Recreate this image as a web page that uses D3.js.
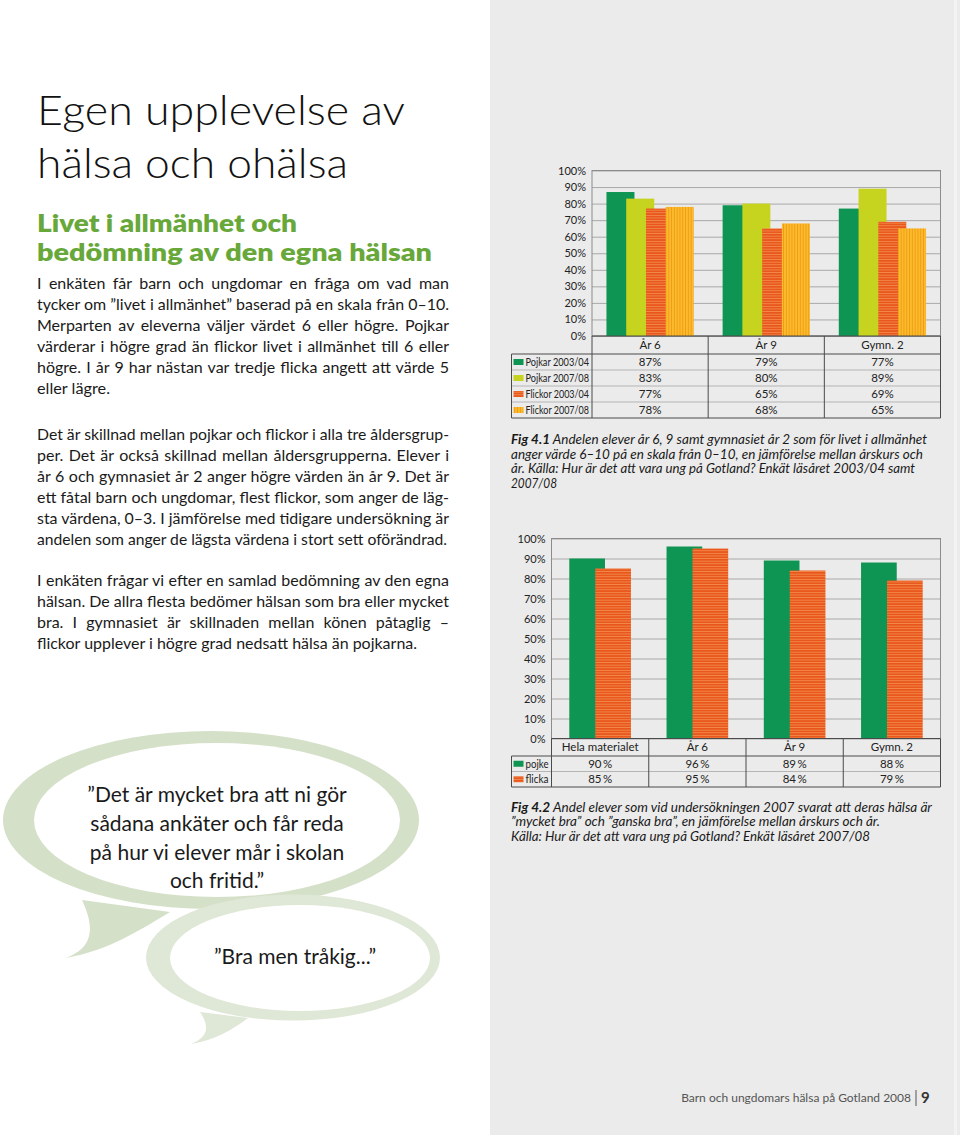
<!DOCTYPE html>
<html><head><meta charset="utf-8">
<script src="https://cdn.jsdelivr.net/npm/d3@7"></script>
<style>html,body{margin:0;padding:0;background:#fff}svg{display:block}</style>
</head><body><svg id="c" width="960" height="1135"></svg>
<script>
// ---------- DATA ----------
// Fig 4.1
const fig1Categories = ["År 6", "År 9", "Gymn. 2"];
const fig1SeriesNames = ["Pojkar 2003/04", "Pojkar 2007/08", "Flickor 2003/04", "Flickor 2007/08"];
const pojkar2003 = [87, 79, 77];
const pojkar2007 = [83, 80, 89];
const flickor2003 = [77, 65, 69];
const flickor2007 = [78, 68, 65];
// Fig 4.2
const fig2Categories = ["Hela materialet", "År 6", "År 9", "Gymn. 2"];
const fig2SeriesNames = ["pojke", "flicka"];
const pojke = [90, 96, 89, 88];
const flicka = [85, 95, 84, 79];
// ticks
const yTicks = [0, 10, 20, 30, 40, 50, 60, 70, 80, 90, 100];

// ---------- TEXT ----------
const titleLines = ["Egen upplevelse av", "hälsa och ohälsa"];
const headingLines = ["Livet i allmänhet och", "bedömning av den egna hälsan"];
const para1 = ["I enkäten får barn och ungdomar en fråga om vad man",
  "tycker om ”livet i allmänhet” baserad på en skala från 0–10.",
  "Merparten av eleverna väljer värdet 6 eller högre. Pojkar",
  "värderar i högre grad än flickor livet i allmänhet till 6 eller",
  "högre. I år 9 har nästan var tredje flicka angett att värde 5",
  "eller lägre."];
const para2 = ["Det är skillnad mellan pojkar och flickor i alla tre åldersgrup-",
  "per. Det är också skillnad mellan åldersgrupperna. Elever i",
  "år 6 och gymnasiet år 2 anger högre värden än år 9. Det är",
  "ett fåtal barn och ungdomar, flest flickor, som anger de läg-",
  "sta värdena, 0–3. I jämförelse med tidigare undersökning är",
  "andelen som anger de lägsta värdena i stort sett oförändrad."];
const para3 = ["I enkäten frågar vi efter en samlad bedömning av den egna",
  "hälsan. De allra flesta bedömer hälsan som bra eller mycket",
  "bra. I gymnasiet är skillnaden mellan könen påtaglig –",
  "flickor upplever i högre grad nedsatt hälsa än pojkarna."];
const quote1 = ["”Det är mycket bra att ni gör", "sådana ankäter och får reda", "på hur vi elever mår i skolan", "och fritid.”"];
const quote2 = "”Bra men tråkig...”";
const cap1 = [["Fig 4.1", " Andelen elever år 6, 9 samt gymnasiet år 2 som för livet i allmänhet"],
  ["", "anger värde 6–10 på en skala från 0–10, en jämförelse mellan årskurs och"],
  ["", "år. Källa: Hur är det att vara ung på Gotland? Enkät läsåret 2003/04 samt"],
  ["", "2007/08"]];
const cap2 = [["Fig 4.2", " Andel elever som vid undersökningen 2007 svarat att deras hälsa är"],
  ["", "”mycket bra” och ”ganska bra”, en jämförelse mellan årskurs och år."],
  ["", "Källa: Hur är det att vara ung på Gotland? Enkät läsåret 2007/08"]];
const footerText = "Barn och ungdomars hälsa på Gotland 2008";
const pageNo = "9";

// ---------- SETUP ----------
const svg = d3.select("#c");
const defs = svg.append("defs");
const pH = defs.append("pattern").attr("id", "hstripe").attr("patternUnits", "userSpaceOnUse")
  .attr("width", 6).attr("height", 2.6);
pH.append("rect").attr("width", 6).attr("height", 2.6).attr("fill", "#e9561b");
pH.append("rect").attr("y", 1.7).attr("width", 6).attr("height", 0.9).attr("fill", "#f28a4c");
const pV = defs.append("pattern").attr("id", "vstripe").attr("patternUnits", "userSpaceOnUse")
  .attr("width", 2.8).attr("height", 6);
pV.append("rect").attr("width", 2.8).attr("height", 6).attr("fill", "#fbbb2a");
pV.append("rect").attr("x", 1.9).attr("width", 0.9).attr("height", 6).attr("fill", "#f09a17");

svg.append("rect").attr("width", 960).attr("height", 1135).attr("fill", "#ffffff");
svg.append("rect").attr("x", 490).attr("width", 470).attr("height", 1135).attr("fill", "#ebebeb");
svg.append("rect").attr("x", 954).attr("width", 3).attr("height", 1135).attr("fill", "#f3f3f3");

const BODY = "Lato, 'Open Sans', sans-serif";
const NARROW = "Lato, sans-serif";

function fit(t, target, mode) {
  const w = t.node().getComputedTextLength();
  if (mode === "justify" && w < target) {
    const n = (t.text().match(/ /g) || []).length;
    if (n) t.attr("word-spacing", (target - w) / n);
  } else if (mode === "max") {
    if (w > target) t.attr("textLength", target).attr("lengthAdjust", "spacingAndGlyphs");
  } else {
    t.attr("textLength", target).attr("lengthAdjust", "spacingAndGlyphs");
  }
}

// ---------- LEFT PAGE TEXT ----------
const left = svg.append("g");
const tY = [125, 178], tW = [368, 311];
titleLines.forEach((s, i) => {
  const t = left.append("text").attr("x", 37).attr("y", tY[i]).text(s)
    .attr("font-family", BODY).attr("font-weight", 300).attr("font-size", 41).attr("fill", "#111");
  fit(t, tW[i], "stretch");
});
const hY = [232, 260.5], hW = [260, 395];
headingLines.forEach((s, i) => {
  const t = left.append("text").attr("x", 37).attr("y", hY[i]).text(s)
    .attr("font-family", BODY).attr("font-weight", 800).attr("font-size", 23.5).attr("fill", "#68a83b");
  fit(t, hW[i], "stretch");
});
function para(lines, y0, dy, lastW) {
  lines.forEach((s, i) => {
    const t = left.append("text").attr("x", 37).attr("y", y0 + i * dy).text(s)
      .attr("font-family", BODY).attr("font-size", 16).attr("fill", "#1a1a1a");
    if (i < lines.length - 1) fit(t, 412, "justify");
    else fit(t, lastW, "stretch");
  });
}
para(para1, 289, 21, 73);
para(para2, 440, 21, 410);
para(para3, 586, 21, 380);

// ---------- SPEECH BUBBLES ----------
const bub = svg.append("g");
bub.append("ellipse").attr("cx", 211).attr("cy", 820).attr("rx", 208).attr("ry", 89).attr("fill", "#d5e0c8");
bub.append("path").attr("d", "M82,900 C96,930 92,948 66,958 C110,950 140,930 170,912 Z").attr("fill", "#d5e0c8");
bub.append("ellipse").attr("cx", 217).attr("cy", 820).attr("rx", 183).attr("ry", 77).attr("fill", "#ffffff");
bub.append("ellipse").attr("cx", 293).attr("cy", 957.5).attr("rx", 147).attr("ry", 63).attr("fill", "#dfe7d6");
bub.append("path").attr("d", "M200,1012 C212,1030 205,1038 191,1044 C215,1040 232,1030 248,1018 Z").attr("fill", "#dfe7d6");
bub.append("ellipse").attr("cx", 300).attr("cy", 958).attr("rx", 130).attr("ry", 53).attr("fill", "#ffffff");
const qY = [802, 831, 860, 888];
quote1.forEach((s, i) => {
  bub.append("text").attr("x", 217).attr("y", qY[i]).attr("text-anchor", "middle").text(s)
    .attr("font-family", BODY).attr("font-size", 21).attr("fill", "#1a1a1a");
});
bub.append("text").attr("x", 295).attr("y", 964).attr("text-anchor", "middle").text(quote2)
  .attr("font-family", BODY).attr("font-size", 21).attr("fill", "#1a1a1a");

// ---------- CHART FUNCTION ----------
function drawChart(cfg) {
  const g = svg.append("g");
  const x = d3.scaleBand().domain(cfg.categories).range([cfg.left, cfg.right]).padding(0);
  const y = d3.scaleLinear().domain([0, 100]).range([cfg.bottom, cfg.top]);
  const bw = x.bandwidth();
  const barW = bw * cfg.barFrac, step = bw * cfg.stepFrac;
  const span = step * (cfg.series.length - 1) + barW;
  const xs = d3.scalePoint().domain(cfg.series.map(s => s.name))
    .range([(bw - span) / 2, (bw - span) / 2 + step * (cfg.series.length - 1)]);

  // gridlines
  const grid = g.append("g").attr("transform", `translate(${cfg.left},0)`)
    .call(d3.axisLeft(y).tickValues(yTicks).tickSize(-(cfg.right - cfg.left)).tickFormat(""));
  grid.select(".domain").remove();
  grid.selectAll("line").attr("stroke", "#a9a9a9").attr("stroke-width", 1);
  g.append("rect").attr("x", cfg.left).attr("y", cfg.top).attr("width", cfg.right - cfg.left)
    .attr("height", cfg.bottom - cfg.top).attr("fill", "none").attr("stroke", "#8c8c8c");

  // y labels
  const ax = g.append("g").attr("transform", `translate(${cfg.left},0)`)
    .call(d3.axisLeft(y).tickValues(yTicks).tickSize(0).tickPadding(6).tickFormat(d => d + "%"));
  ax.select(".domain").remove();
  ax.selectAll("text").attr("font-family", NARROW).attr("font-size", 11).attr("fill", "#222");

  // bars
  cfg.series.forEach(s => {
    g.append("g").selectAll("rect").data(s.values).join("rect")
      .attr("x", (d, i) => x(cfg.categories[i]) + xs(s.name))
      .attr("width", barW)
      .attr("y", d => y(d))
      .attr("height", d => y(0) - y(d))
      .attr("fill", s.fill);
  });

  // table
  const tb = cfg.headerBottom + cfg.rowH * cfg.series.length;
  const t = g.append("g");
  cfg.series.forEach((s, i) => {
    const yy = cfg.headerBottom + cfg.rowH * i;
    if (i > 0) t.append("line").attr("x1", cfg.tableLeft).attr("x2", cfg.right).attr("y1", yy).attr("y2", yy)
      .attr("stroke", "#b5b5b5");
    t.append("rect").attr("x", cfg.tableLeft + 2).attr("y", yy + cfg.rowH / 2 - 3).attr("width", 10).attr("height", 6)
      .attr("fill", s.fill);
    const lab = t.append("text").attr("x", cfg.tableLeft + 14).attr("y", yy + cfg.rowH / 2).attr("dy", "0.36em").text(s.name)
      .attr("font-family", NARROW).attr("font-size", 11.5).attr("fill", "#222");
    fit(lab, cfg.left - cfg.tableLeft - 17, "max");
    s.values.forEach((v, j) => {
      t.append("text").attr("x", x(cfg.categories[j]) + bw / 2).attr("y", yy + cfg.rowH / 2).attr("dy", "0.36em")
        .attr("text-anchor", "middle").text(cfg.fmt(v))
        .attr("font-family", NARROW).attr("font-size", 11.5).attr("fill", "#222");
    });
  });
  cfg.categories.forEach(c => {
    t.append("text").attr("x", x(c) + bw / 2).attr("y", (cfg.bottom + cfg.headerBottom) / 2).attr("dy", "0.36em")
      .attr("text-anchor", "middle").text(c)
      .attr("font-family", NARROW).attr("font-size", 11.5).attr("fill", "#222");
  });
  const ln = "#4a4a4a";
  t.append("line").attr("x1", cfg.tableLeft).attr("x2", cfg.right).attr("y1", cfg.headerBottom).attr("y2", cfg.headerBottom).attr("stroke", ln);
  t.append("line").attr("x1", cfg.tableLeft).attr("x2", cfg.right).attr("y1", tb).attr("y2", tb).attr("stroke", ln);
  t.append("line").attr("x1", cfg.tableLeft).attr("x2", cfg.tableLeft).attr("y1", cfg.headerBottom).attr("y2", tb).attr("stroke", ln);
  t.append("line").attr("x1", cfg.left).attr("x2", cfg.right).attr("y1", cfg.bottom).attr("y2", cfg.bottom).attr("stroke", ln);
  const bounds = cfg.categories.map(c => x(c)).concat([cfg.right]);
  bounds.forEach(bx => t.append("line").attr("x1", bx).attr("x2", bx).attr("y1", cfg.bottom).attr("y2", tb).attr("stroke", ln));
}

drawChart({
  categories: fig1Categories,
  series: [
    { name: fig1SeriesNames[0], values: pojkar2003, fill: "#0f9553" },
    { name: fig1SeriesNames[1], values: pojkar2007, fill: "#c6d420" },
    { name: fig1SeriesNames[2], values: flickor2003, fill: "url(#hstripe)" },
    { name: fig1SeriesNames[3], values: flickor2007, fill: "url(#vstripe)" }
  ],
  left: 592, right: 940.5, top: 170.5, bottom: 336,
  barFrac: 0.241, stepFrac: 0.170,
  tableLeft: 511.5, headerBottom: 354, rowH: 16,
  fmt: v => v + "%"
});

drawChart({
  categories: fig2Categories,
  series: [
    { name: fig2SeriesNames[0], values: pojke, fill: "#0f9553" },
    { name: fig2SeriesNames[1], values: flicka, fill: "url(#hstripe)" }
  ],
  left: 551.5, right: 940.5, top: 538.5, bottom: 738.5,
  barFrac: 0.367, stepFrac: 0.267,
  tableLeft: 511.5, headerBottom: 756, rowH: 15.5,
  fmt: v => v + "\u2009%"
});

// ---------- CAPTIONS ----------
function caption(lines, y0, dy, widths) {
  lines.forEach((l, i) => {
    const t = svg.append("text").attr("x", 511).attr("y", y0 + i * dy)
      .attr("font-family", BODY).attr("font-size", 13).attr("font-style", "italic").attr("fill", "#1a1a1a");
    if (l[0]) t.append("tspan").attr("font-weight", 700).text(l[0]);
    t.append("tspan").text(l[1]);
    fit(t, widths[i], "stretch");
  });
}
caption(cap1, 444, 14.5, [416, 412, 404, 46]);
caption(cap2, 811.5, 14.5, [421, 369, 359]);

// ---------- FOOTER ----------
svg.append("text").attr("x", 911).attr("y", 1102).attr("text-anchor", "end").text(footerText)
  .attr("font-family", BODY).attr("font-size", 12).attr("fill", "#555");
svg.append("line").attr("x1", 916).attr("x2", 916).attr("y1", 1090).attr("y2", 1106).attr("stroke", "#555");
svg.append("text").attr("x", 921).attr("y", 1103).text(pageNo)
  .attr("font-family", BODY).attr("font-weight", 700).attr("font-size", 15).attr("fill", "#333");
</script></body></html>
